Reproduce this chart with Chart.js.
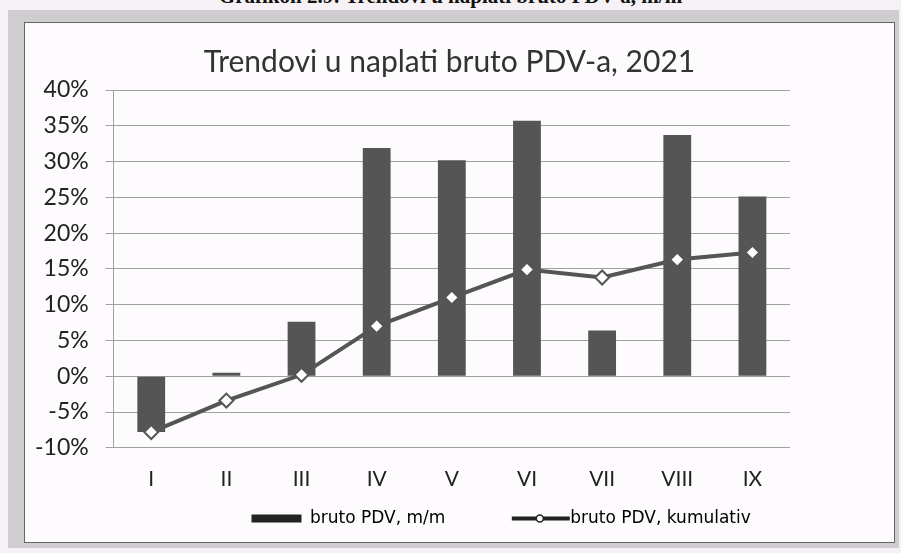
<!DOCTYPE html>
<html>
<head>
<meta charset="utf-8">
<script src="https://cdn.jsdelivr.net/npm/chart.js@4"></script>
<style>
  html, body { margin: 0; padding: 0; }
  body { width: 901px; height: 553px; background: #f5f1f4; position: relative; overflow: hidden; }
  #caption { position: absolute; left: 0; width: 901px; top: -15px; text-align: center;
    font-family: "Liberation Serif", serif; font-weight: bold; font-size: 21px; line-height: 22px; color: #111; }
  #frame { position: absolute; left: 8px; top: 10px; width: 891px; height: 538px; background: #cfcdd0; }
  #box { position: absolute; left: 24px; top: 22px; width: 869px; height: 519px; background: #fdfbfd; border: 1px solid #666; }
  #wrap { position: absolute; left: 0; top: 0; width: 901px; height: 553px; }
</style>
</head>
<body>
<div id="caption">Grafikon 2.9: Trendovi u naplati bruto PDV-a, m/m</div>
<div id="frame"></div>
<div id="box"></div>
<div id="wrap"><canvas id="canvas"></canvas></div>
<script>
const months = ['I', 'II', 'III', 'IV', 'V', 'VI', 'VII', 'VIII', 'IX']
const mom = [-7.8, 0.5, 7.6, 31.9, 30.2, 35.7, 6.4, 33.7, 25.1]        // bruto PDV, m/m
const cumulative = [-7.8, -3.4, 0.2, 7.0, 11.0, 14.9, 13.8, 16.3, 17.3] // bruto PDV, kumulativ

const dark = '#555555'
const none = 'rgba(0,0,0,0)'

// line + small white circle for the line legend item
const legendMarker = {
  id: 'legendMarker',
  afterDraw(chart) {
    const boxes = chart.legend.legendHitBoxes
    if (!boxes || boxes.length < 3) return
    const b = boxes[2]
    const ctx = chart.ctx
    const cy = b.top + b.height / 2
    ctx.save()
    ctx.strokeStyle = '#222'
    ctx.lineWidth = 4
    ctx.beginPath()
    ctx.moveTo(b.left, cy)
    ctx.lineTo(b.left + 58, cy)
    ctx.stroke()
    ctx.fillStyle = '#ffffff'
    ctx.lineWidth = 1.5
    ctx.beginPath()
    ctx.arc(b.left + 28, cy, 3.5, 0, Math.PI * 2)
    ctx.fill()
    ctx.stroke()
    ctx.restore()
  }
}

const config = {
  data: {
    labels: months,
    datasets: [
      {
        type: 'line',
        label: 'bruto PDV, kumulativ',
        data: cumulative,
        borderColor: dark,
        backgroundColor: '#ffffff',
        borderWidth: 4,
        pointStyle: 'rectRot',
        pointRadius: 7,
        pointBorderWidth: 2,
        pointBorderColor: dark,
        pointBackgroundColor: '#ffffff',
        tension: 0,
        order: 0,
      },
      {
        type: 'bar',
        label: 'bruto PDV, m/m',
        data: mom,
        backgroundColor: dark,
        barPercentage: 0.37,
        categoryPercentage: 1,
        order: 1,
      },
    ],
  },
  options: {
    responsive: true,
    maintainAspectRatio: false,
    animation: false,
    layout: { padding: { left: 18, right: 20, top: 44, bottom: 16 } },
    plugins: {
      title: {
        display: true,
        text: 'Trendovi u naplati bruto PDV-a, 2021',
        color: '#333',
        font: { family: 'Lato', size: 30, weight: 'normal' },
        padding: { top: 0, bottom: 10 },
      },
      legend: {
        position: 'bottom',
        labels: {
          color: '#222',
          font: { family: 'DejaVu Sans', size: 17 },
          boxWidth: 50,
          boxHeight: 8,
          padding: 7,
          generateLabels(chart) {
            return [
              // empty slot so the legend sits right of centre, like the original
              { text: '       ', fillStyle: none, strokeStyle: none, lineWidth: 0 },
              { text: 'bruto PDV, m/m           ', fillStyle: '#222', strokeStyle: '#222', lineWidth: 0, datasetIndex: 1 },
              { text: 'bruto PDV, kumulativ', fillStyle: none, strokeStyle: none, lineWidth: 0, datasetIndex: 0 },
            ]
          },
        },
      },
      tooltip: { enabled: false },
    },
    scales: {
      x: {
        grid: { display: false },
        border: { display: false },
        ticks: { color: '#222', font: { family: 'Lato', size: 21 }, padding: 11 },
      },
      y: {
        min: -10,
        max: 40,
        ticks: {
          stepSize: 5,
          color: '#222',
          font: { family: 'Lato', size: 23 },
          padding: 17,
          callback: v => v + '%',
        },
        grid: { color: '#a0a0a0', lineWidth: 1, tickLength: 8 },
        border: { display: true, color: '#a0a0a0' },
      },
      // empty space to the right of the plot, as in the original
      spacer: {
        type: 'linear',
        position: 'right',
        display: true,
        grid: { display: false },
        border: { display: false },
        ticks: { display: false },
        afterFit(scale) { scale.width = 91 },
      },
    },
  },
  plugins: [legendMarker],
}

const canvas = document.getElementById('canvas')
const chart = new Chart(canvas, config)
</script>
</body>
</html>
